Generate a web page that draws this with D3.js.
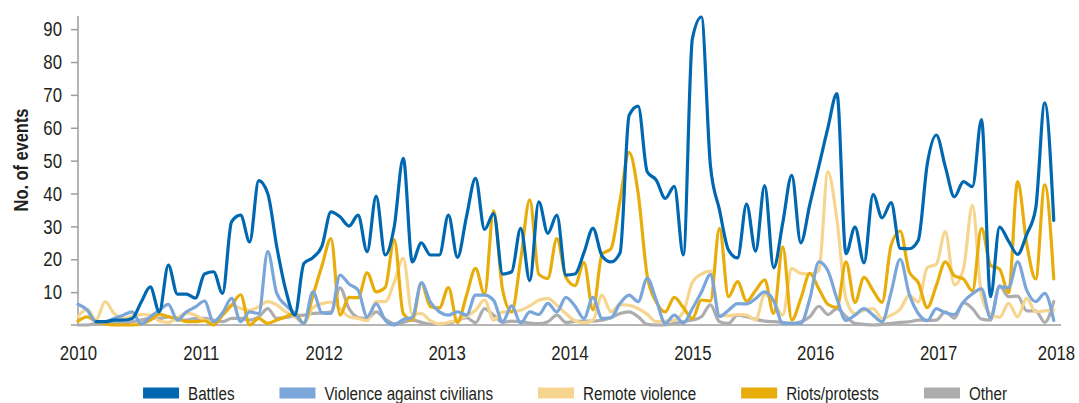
<!DOCTYPE html>
<html>
<head>
<meta charset="utf-8">
<script src="https://cdn.jsdelivr.net/npm/d3@7"></script>
<style>
  html, body { margin: 0; padding: 0; background: #fff; }
  svg { display: block; }
  text { font-family: "Liberation Sans", Arial, sans-serif; fill: #231f20; }
</style>
</head>
<body>
<svg id="chart" width="1079" height="403"></svg>
<script>
// ---- data ----
const yearTicks = [2010, 2011, 2012, 2013, 2014, 2015, 2016, 2017, 2018];
const yTicks = [10, 20, 30, 40, 50, 60, 70, 80, 90];
const categories = ["Battles", "Violence against civilians", "Remote violence", "Riots/protests", "Other"];
const colors = ["#0067b1", "#7ba6d9", "#f6d58f", "#e8ad0b", "#adadaf"];
const startYear = 2010;
const periodsPerYear = 13.6;   // reporting periods per year

const battles = [null,null,1,1,1.5,1.5,2,7,11.6,4,18.2,9.4,9.4,8.2,15.5,16.2,9.6,31.4,33.4,25.3,
  43.9,40,23.8,10.6,3,18.7,20.5,24,34.4,32.9,30.1,33.4,22.3,39.2,21.3,29.9,50.7,19.2,25,21.3,
  21.3,33.4,20.6,33,44.6,29.1,33.9,15.5,16.2,29.4,13.5,37.5,27.9,33.4,15.2,15.5,22,29.4,21,19.2,
  22,63.8,66.6,46.6,44.1,38.5,42.2,21.3,87.1,93.7,48.4,35,22.8,20.4,36.8,22.5,42.4,17.4,31,45.5,
  25,36.7,48.3,60,70.4,21.7,29.8,18.9,39.7,32.6,37.2,23.3,23.2,25.8,49,57.8,48.1,39,43.6,42.1,
  62.5,8.6,29.8,25.5,21.5,27.5,35.5,67.6,31.8];
const violence = [6.3,4.6,1,0.9,2,3,4,0.3,2.5,4.5,6.3,1.5,4,5.5,7.3,1,3.7,8.1,1,4,
  3.5,22.3,9.6,6,3.5,0.5,10.1,3.7,3.5,15.2,12.5,10.6,2.5,6.4,1.5,0,1.7,2.3,12.9,7,
  4,3,4,3,9.1,9.1,7.5,1,5.8,0.6,4,3.2,6.6,4,8.4,5.8,2,8.4,2,2.3,
  6.6,9.1,7.1,14.2,7.6,0.5,3,0.6,5,10,15.3,2.6,4.5,6.5,6.4,8,10.1,7.4,0.5,0.5,
  0.5,8,19.2,16.5,8,1.4,3,5,3,1,10,20,9.4,3.5,1.3,5,3.7,3.2,7,9.5,
  11,2.2,11.6,11.4,19.2,10.6,7.1,9.6,1.4];
const remote = [2.5,4.8,1.6,7.1,3.5,2,2.7,3.2,3,1.2,0.8,2.2,3.7,3,1.5,1,3.5,6,5,4.5,
  5.6,7.1,6.1,4,2.5,0.5,5.3,6.5,7,5,2.5,2,1.3,7.1,7.1,13,20.3,3.2,3.5,1.3,
  0.3,0.8,1.6,2.7,4.5,7.6,1.5,4,4,4.5,5.8,7.5,8.1,6,3.5,1.3,0.7,1.5,9,4,
  6.2,6,5,3.3,1,1.2,1.5,4,13,15.5,16.4,3,2.8,3.2,3,1.5,9.3,7,3,17.2,
  15.7,15.5,16.6,46.6,32,8,3.5,4.5,5,2,3,4.8,9,7,17.5,18.5,28.4,12.2,17,36.4,
  9,3.3,2.3,6.6,2.5,8.1,4,4.3,4.6];
const riots = [1.2,2.5,1,0.3,0,0,0,0.3,1.5,3.3,2.5,2,1,1,1.3,0,3,6,9.2,0,
  2,0.5,1.5,2.5,3.6,0.5,9,18,26.3,3,8.4,8.3,15.9,10.1,11.4,26,3.5,1.5,12.7,5.6,
  5.2,11.4,0.8,9,17.2,9.4,34.8,10.6,4,20,38.1,15.5,14.2,26.3,14.5,12,19,4.6,21.5,23.3,
  38,52.5,40,15,7,4,8.4,5.3,2,7.6,7.3,29.4,8.6,13.2,7.3,10.5,13.7,3.5,23.8,1.5,
  8,15.7,11,6.3,5.3,19.2,6.9,14.5,10.5,6.9,24.3,28.6,16.2,12.9,5.3,12,19.2,15,14,10.4,
  29.4,18.2,17,9.8,43.6,24.8,14,42.6,14];
const other = [0,0,0.5,1,0.5,0.5,1,1.5,2,2,2.5,1.5,1.5,2,2,1.5,1,2,2,1.5,
  2.5,5,2,2.3,2.8,3,3.5,3.7,4,11.3,5,2.3,2,4,1.8,0.4,0.8,1.5,0.8,0.2,
  0.3,0.4,1.5,2.2,0.7,5,3,0.8,1.2,1,0.6,0.4,1,3,0.8,1.1,1.2,1.2,1.5,2.2,
  3.5,4,2.5,0.2,0,0,0.5,1,1.5,2.5,6.1,1,0.5,3,2.5,1.7,1.2,1,0.8,0.5,
  1,2.5,5.7,3.2,5,2.6,0.5,0.2,0,0.2,0.5,0.8,1,1.5,1.4,1.5,4,2.1,6.8,5,
  1.8,1.5,12,8.6,8.8,4.3,4.3,0.8,7.1];

const seriesValues = [battles, violence, remote, riots, other];
// drawing order: bottom to top
const drawOrder = [4, 2, 3, 1, 0];

// ---- layout ----
const narrow = 0.8;  // horizontal condensing of the font
const svg = d3.select("#chart");
const x = d3.scaleLinear().domain([2010, 2018]).range([78, 1061]);
const y = d3.scaleLinear().domain([0, 94]).range([325, 16]);
const axisColor = "#9d9d9d";

// y axis
const yAxis = d3.axisLeft(y).tickValues(yTicks).tickSize(7).tickPadding(9).tickFormat(d3.format("d"));
const gy = svg.append("g").attr("transform", "translate(78,0)").call(yAxis);
gy.select(".domain").attr("stroke", axisColor).attr("stroke-width", 1.5)
  .attr("d", `M0,${y(94)}V${y(0)}`);
gy.selectAll(".tick line").attr("stroke", axisColor).attr("stroke-width", 1.5);
gy.selectAll(".tick text")
  .style("font-size", "21px").attr("fill", "#231f20")
  .attr("x", -16 / narrow).attr("transform", `scale(${narrow},1)`);

// x axis
const xAxis = d3.axisBottom(x).tickValues(yearTicks).tickSize(0).tickPadding(20).tickFormat(d3.format("d"));
const gx = svg.append("g").attr("transform", `translate(0,${y(0)})`).call(xAxis);
gx.select(".domain").attr("stroke", axisColor).attr("stroke-width", 1.5)
  .attr("d", `M71,0H1061`);
gx.selectAll(".tick text")
  .style("font-size", "21px").attr("fill", "#231f20")
  .attr("x", d => d === 2018 ? -5 / narrow : 0)
  .attr("transform", `scale(${narrow},1)`);
svg.selectAll("g").attr("font-family", null);

// y title
svg.append("text")
  .attr("transform", `translate(28,160) rotate(-90) scale(${narrow},1)`)
  .attr("text-anchor", "middle")
  .style("font-size", "20.5px").style("font-weight", "bold")
  .text("No. of events");

// lines
const line = d3.line()
  .defined(d => d.v != null)
  .x(d => x(d.t))
  .y(d => y(d.v))
  .curve(d3.curveMonotoneX);

const plot = svg.append("g");
drawOrder.forEach(si => {
  const data = seriesValues[si].map((v, i) => ({ t: startYear + i / periodsPerYear, v }));
  plot.append("path")
    .datum(data)
    .attr("fill", "none")
    .attr("stroke", colors[si])
    .attr("stroke-width", 3.2)
    .attr("stroke-linejoin", "round")
    .attr("stroke-linecap", "round")
    .attr("d", line);
});

// legend
const legend = svg.append("g");
const swW = 36, swH = 11, swGap = 9, itemGap = 45, legendY = 393;
const items = categories.map((c, i) => {
  const g = legend.append("g");
  g.append("rect").attr("width", swW).attr("height", swH).attr("y", legendY - swH / 2).attr("fill", colors[i]);
  const t = g.append("text")
    .attr("transform", `translate(${swW + swGap},0) scale(${narrow},1)`)
    .attr("y", legendY).attr("dy", "0.35em")
    .style("font-size", "19px").text(c);
  return { g, w: swW + swGap + t.node().getComputedTextLength() * narrow };
});
const total = d3.sum(items, d => d.w) + itemGap * (items.length - 1);
let cx = 575 - total / 2;
items.forEach(it => { it.g.attr("transform", `translate(${cx},0)`); cx += it.w + itemGap; });
</script>
</body>
</html>
